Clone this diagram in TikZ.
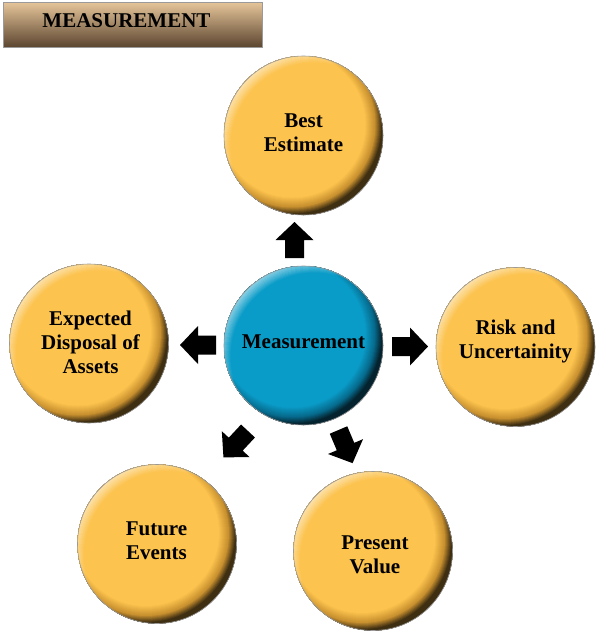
\documentclass[tikz,border=0pt]{standalone}
\usepackage{fontspec}
\setmainfont{Liberation Serif}
\definecolor{yel}{HTML}{FCC34E}
\definecolor{yelmid}{HTML}{C8902F}
\definecolor{yeldark}{HTML}{3E2E12}
\definecolor{blu}{HTML}{0A9CC8}
\definecolor{blumid}{HTML}{066A8C}
\definecolor{bludark}{HTML}{05232E}
\definecolor{rimgray}{HTML}{9A9A9A}
\definecolor{tantop}{HTML}{E6C59A}
\definecolor{tanmid}{HTML}{C28C54}
\definecolor{tanbot}{HTML}{5C4630}
\tikzset{
  bubble/.style={circle, minimum size=159pt, inner sep=0pt},
  label text/.style={font=\bfseries\fontsize{21}{24}\selectfont, align=center, inner sep=0pt, text=black},
  titlebox/.style={rectangle, minimum width=259pt, minimum height=45pt, inner sep=0pt,
    top color=tantop, middle color=tanmid, bottom color=tanbot, draw=rimgray, line width=0.8pt},
  blockfill/.style={fill=black}
}
% name, x, y, light, mid, dark
\newcommand\mybubble[6]{%
  \node[bubble] (#1) at (#2,#3) {};
  \begin{scope}
    \clip (#1.center) circle[radius=79.5pt];
    \foreach \r in {97,96,...,72}{%
      \pgfmathtruncatemacro\pa{max(0,min(100,(90-\r)*100/7))}%
      \pgfmathtruncatemacro\pb{max(0,min(100,(83-\r)*10))}%
      \fill[fill={#4!\pb!#5!\pa!#6}] (#1.center) ++(-11,-11) circle[radius=\r pt];
    }
    \foreach \r in {85,86,...,97}{%
      \pgfmathsetmacro\op{max(0,min(0.5,(\r-84)*0.045))}%
      \pgfmathsetmacro\rr{\r-1}%
      \fill[white, fill opacity=\op, even odd rule] (#1.center) ++(11,11) circle[radius=\r pt] circle[radius=\rr pt];
    }
  \end{scope}
  \draw[rimgray, line width=0.6pt] (#1.center) circle[radius=79.5pt];
}
\newcommand\blockarr[3]{%
  \begin{scope}[shift={(#1,#2)}, rotate=#3]
    \fill[blockfill] (0,-9.5) -- (18,-9.5) -- (18,-19) -- (36,0) -- (18,19) -- (18,9.5) -- (0,9.5) -- cycle;
  \end{scope}
}
\begin{document}
\begin{tikzpicture}[x=1pt, y=-1pt]
\useasboundingbox (0,0) rectangle (597,635);
\fill[white] (0,0) rectangle (597,635);

% title
\node[titlebox] (title) at (132.5,24.5) {};
\node[label text] (titletext) at (126.5,21) {MEASUREMENT};

% bubbles
\mybubble{center}{303.5}{345.5}{blu}{blumid}{bludark}
\mybubble{best}{303.5}{135.5}{yel}{yelmid}{yeldark}
\mybubble{risk}{515.5}{347}{yel}{yelmid}{yeldark}
\mybubble{exp}{89}{343.5}{yel}{yelmid}{yeldark}
\mybubble{fut}{157}{544}{yel}{yelmid}{yeldark}
\mybubble{pres}{373}{551}{yel}{yelmid}{yeldark}

% texts
\node[label text] (tcenter) at (303.5,341.5) {Measurement};
\node[label text] (tbest) at (303.5,133) {Best\\Estimate};
\node[label text] (trisk) at (515.5,341) {Risk and\\Uncertainity};
\node[label text] (texp) at (90.5,342) {Expected\\Disposal of\\Assets};
\node[label text] (tfut) at (156.5,540.5) {Future\\Events};
\node[label text] (tpres) at (375,554.5) {Present\\Value};

% block arrows
\blockarr{294.5}{258}{90}
\blockarr{392}{346.5}{0}
\blockarr{216}{345}{180}
\blockarr{248}{431}{-133}
\blockarr{338.5}{430}{-67}
\end{tikzpicture}
\end{document}
